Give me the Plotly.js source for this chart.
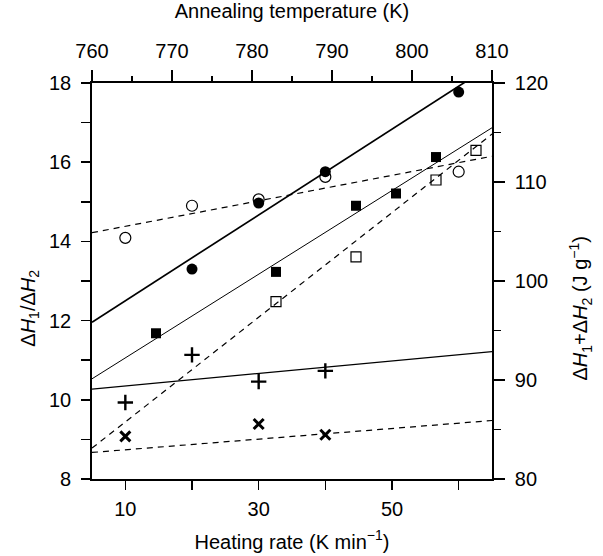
<!DOCTYPE html>
<html>
<head>
<meta charset="utf-8">
<script src="https://cdn.plot.ly/plotly-3.0.1.min.js"></script>
<style>
  html, body { margin: 0; padding: 0; background: #fff; }
  #chart { width: 603px; height: 556px; }
</style>
</head>
<body>
<div id="chart"></div>
<script>
// ΔH1/ΔH2 against heating rate (K/min)
const openCircleRate = [10, 20, 30, 40, 60];
const openCircleRatio = [14.09, 14.90, 15.06, 15.63, 15.76];
const filledCircleRate = [20, 30, 40, 60];
const filledCircleRatio = [13.30, 14.97, 15.76, 17.77];

// ΔH1/ΔH2 against annealing temperature (K)
const filledSquareTemp = [768, 783, 793, 798, 803];
const filledSquareRatio = [11.68, 13.23, 14.90, 15.21, 16.13];
const openSquareTemp = [783, 793, 803, 808];
const openSquareRatio = [12.48, 13.61, 15.55, 16.30];

// ΔH1+ΔH2 (J/g) against heating rate
const plusRate = [10, 20, 30, 40];
const plusEnthalpy = [87.73, 92.54, 89.84, 90.92];
const crossRate = [10, 30, 40];
const crossEnthalpy = [84.30, 85.55, 84.47];

// Linear fits (end points)
const fitRate = [5, 65];
const fitTemp = [760, 810];
const fitFilledCircles = [11.96, 18.46];
const fitOpenCircles = [14.22, 16.15];
const fitFilledSquares = [10.53, 16.87];
const fitOpenSquares = [8.78, 16.71];
const fitPlus = [89.08, 92.87];
const fitCross = [82.68, 85.91];

// Axis ticks
const rateTicks = [10, 20, 30, 40, 50, 60];
const rateTickText = ['10', '', '30', '', '50', ''];

const FONT = 'Liberation Sans, Arial, Helvetica, sans-serif';
const FS = 20;
const DASH = '6px,5px';

function fitLine(x, y, xa, ya, width, dash) {
  return { x: x, y: y, xaxis: xa, yaxis: ya, mode: 'lines', hoverinfo: 'skip',
           line: { color: '#000', width: width, dash: dash } };
}
function pts(x, y, xa, ya, symbol, size, lw) {
  return { x: x, y: y, xaxis: xa, yaxis: ya, mode: 'markers', cliponaxis: false,
           marker: { symbol: symbol, size: size, color: '#000',
                     line: { color: '#000', width: lw } } };
}

const traces = [
  fitLine(fitRate, fitFilledCircles, 'x', 'y', 1.7, 'solid'),
  fitLine(fitRate, fitOpenCircles, 'x', 'y', 1.2, DASH),
  fitLine(fitTemp, fitFilledSquares, 'x2', 'y', 1.0, 'solid'),
  fitLine(fitTemp, fitOpenSquares, 'x2', 'y', 1.2, DASH),
  fitLine(fitRate, fitPlus, 'x', 'y2', 1.2, 'solid'),
  fitLine(fitRate, fitCross, 'x', 'y2', 1.2, DASH),
  pts(openCircleRate, openCircleRatio, 'x', 'y', 'circle-open', 11, 1.2),
  pts(filledCircleRate, filledCircleRatio, 'x', 'y', 'circle', 11, 0),
  pts(filledSquareTemp, filledSquareRatio, 'x2', 'y', 'square', 10, 0),
  pts(openSquareTemp, openSquareRatio, 'x2', 'y', 'square-open', 10, 1.2),
  pts(plusRate, plusEnthalpy, 'x', 'y2', 'cross-thin-open', 11, 2.4),
  pts(crossRate, crossEnthalpy, 'x', 'y2', 'x-thin-open', 10, 3)
];

const axisBase = {
  showgrid: false, zeroline: false, showline: true, linecolor: '#000', linewidth: 1.8,
  ticks: 'outside', tickcolor: '#000', tickwidth: 1.5,
  tickfont: { family: FONT, size: FS, color: '#000' }
};

const layout = {
  width: 603, height: 556,
  margin: { l: 92, r: 111, t: 83, b: 77, pad: 0 },
  paper_bgcolor: '#fff', plot_bgcolor: '#fff',
  showlegend: false,
  font: { family: FONT, size: FS, color: '#000' },
  xaxis: Object.assign({}, axisBase, {
    range: [5, 65], tickmode: 'array', tickvals: rateTicks, ticktext: rateTickText,
    ticklen: 9, ticklabelstandoff: 2,
    title: { text: 'Heating rate (K min<sup>−1</sup>)', font: { family: FONT, size: FS }, standoff: 16 }
  }),
  xaxis2: Object.assign({}, axisBase, {
    overlaying: 'x', side: 'top', anchor: 'y',
    range: [760, 810], tickmode: 'linear', tick0: 760, dtick: 10, ticklen: 11,
    ticklabelstandoff: 4,
    minor: { dtick: 5, ticklen: 5, ticks: 'outside', tickcolor: '#000', tickwidth: 1.5 },
    title: { text: 'Annealing temperature (K)', font: { family: FONT, size: FS }, standoff: 16 }
  }),
  yaxis: Object.assign({}, axisBase, {
    range: [8, 18], tickmode: 'linear', tick0: 8, dtick: 2, ticklen: 9,
    ticklabelstandoff: 6,
    minor: { dtick: 1, ticklen: 9, ticks: 'outside', tickcolor: '#000', tickwidth: 1.5 }
  }),
  yaxis2: Object.assign({}, axisBase, {
    overlaying: 'y', side: 'right', anchor: 'x',
    range: [80, 120], tickmode: 'linear', tick0: 80, dtick: 10, ticklen: 11,
    ticklabelstandoff: 6,
    minor: { dtick: 5, ticklen: 7, ticks: 'outside', tickcolor: '#000', tickwidth: 1.5 }
  }),
  // vertical axis titles, set a little below the plot's middle
  annotations: [
    { text: 'Δ<i>H</i><sub>1</sub>/Δ<i>H</i><sub>2</sub>', textangle: -90,
      xref: 'paper', yref: 'paper', x: -0.155, y: 0.43, xanchor: 'center', yanchor: 'middle',
      showarrow: false, font: { family: FONT, size: FS, color: '#000' } },
    { text: 'Δ<i>H</i><sub>1</sub>+Δ<i>H</i><sub>2</sub> (J g<sup>−1</sup>)', textangle: -90,
      xref: 'paper', yref: 'paper', x: 1.222, y: 0.43, xanchor: 'center', yanchor: 'middle',
      showarrow: false, font: { family: FONT, size: FS, color: '#000' } }
  ]
};

Plotly.newPlot('chart', traces, layout, { staticPlot: true, displayModeBar: false });
</script>
</body>
</html>
